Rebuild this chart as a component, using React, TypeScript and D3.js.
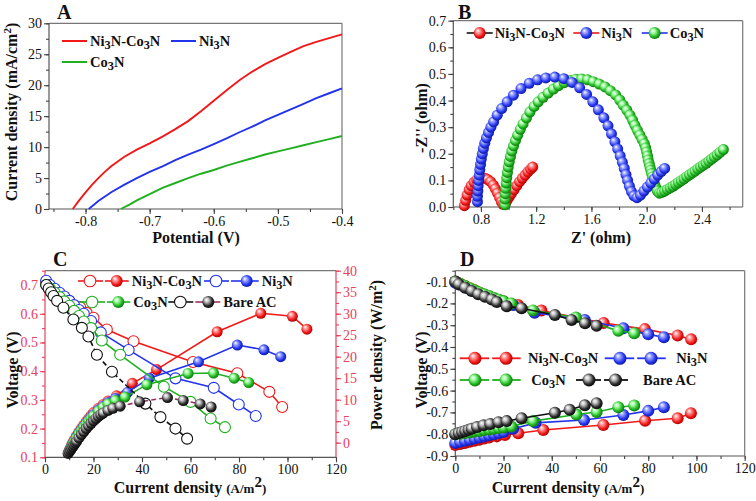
import React, { useEffect, useRef } from 'react';
import * as d3 from 'd3';

type Pt = [number, number];

const SERIF = '"Liberation Serif", "Times New Roman", serif';
const RED = '#f01818';
const BLUE = '#2233ee';
const GREEN = '#1faf1f';
const BLACK = '#111111';
const AXIS_RED = '#e8405a';

// ---------- A: LSV curves (current density vs potential)
const aNiCo: Pt[] = [[-0.82, 0], [-0.81, 1.4], [-0.8, 2.7], [-0.79, 3.9], [-0.78, 5], [-0.77, 6], [-0.76, 6.9], [-0.74, 8.4], [-0.72, 9.6], [-0.7, 10.6], [-0.68, 11.7], [-0.66, 12.9], [-0.64, 14.2], [-0.62, 15.8], [-0.6, 17.5], [-0.58, 19.2], [-0.56, 20.8], [-0.54, 22.2], [-0.52, 23.4], [-0.5, 24.4], [-0.48, 25.4], [-0.46, 26.3], [-0.44, 27], [-0.42, 27.6], [-0.4, 28.2]];
const aNi: Pt[] = [[-0.795, 0], [-0.78, 1.3], [-0.76, 2.7], [-0.74, 3.9], [-0.72, 5], [-0.7, 6], [-0.68, 6.9], [-0.66, 7.9], [-0.64, 8.8], [-0.62, 9.6], [-0.6, 10.5], [-0.58, 11.4], [-0.56, 12.4], [-0.54, 13.3], [-0.52, 14.3], [-0.5, 15.2], [-0.48, 16.1], [-0.46, 17], [-0.44, 17.9], [-0.42, 18.7], [-0.4, 19.5]];
const aCo: Pt[] = [[-0.745, 0], [-0.73, 0.8], [-0.72, 1.4], [-0.7, 2.4], [-0.68, 3.4], [-0.66, 4.2], [-0.64, 5], [-0.62, 5.7], [-0.6, 6.3], [-0.58, 7], [-0.56, 7.6], [-0.54, 8.2], [-0.52, 8.8], [-0.5, 9.3], [-0.48, 9.8], [-0.46, 10.3], [-0.44, 10.8], [-0.42, 11.3], [-0.4, 11.8]];
const aXTicks = [-0.8, -0.7, -0.6, -0.5, -0.4];
const aYTicks = [0, 5, 10, 15, 20, 25, 30];

// ---------- B: Nyquist plots
const bNiCo: Pt[] = [[0.68, 0.005], [0.69, 0.025], [0.7, 0.045], [0.715, 0.065], [0.73, 0.08], [0.75, 0.093], [0.77, 0.102], [0.79, 0.108], [0.81, 0.11], [0.83, 0.108], [0.85, 0.103], [0.87, 0.095], [0.89, 0.082], [0.905, 0.068], [0.92, 0.052], [0.935, 0.036], [0.948, 0.02], [0.96, 0.01], [0.975, 0.012], [0.99, 0.025], [1.005, 0.038], [1.02, 0.05], [1.04, 0.065], [1.06, 0.08], [1.08, 0.095], [1.1, 0.108], [1.12, 0.12], [1.14, 0.132], [1.16, 0.142], [1.175, 0.15]];
const bNi: Pt[] = [[0.775, 0.02], [0.775, 0.04], [0.778, 0.06], [0.78, 0.08], [0.784, 0.1], [0.788, 0.12], [0.792, 0.14], [0.797, 0.16], [0.803, 0.18], [0.81, 0.2], [0.818, 0.22], [0.828, 0.24], [0.84, 0.26], [0.855, 0.28], [0.872, 0.3], [0.892, 0.32], [0.918, 0.345], [0.95, 0.37], [0.99, 0.395], [1.035, 0.42], [1.09, 0.445], [1.15, 0.465], [1.21, 0.478], [1.27, 0.485], [1.335, 0.488], [1.4, 0.482], [1.46, 0.468], [1.515, 0.448], [1.565, 0.423], [1.61, 0.395], [1.65, 0.365], [1.69, 0.335], [1.72, 0.305], [1.745, 0.275], [1.77, 0.245], [1.79, 0.218], [1.808, 0.192], [1.824, 0.168], [1.838, 0.145], [1.85, 0.122], [1.862, 0.1], [1.875, 0.078], [1.89, 0.058], [1.908, 0.042], [1.93, 0.035], [1.955, 0.045], [1.98, 0.06], [2.005, 0.075], [2.03, 0.09], [2.055, 0.105], [2.08, 0.12], [2.105, 0.133], [2.13, 0.145]];
const bCo: Pt[] = [[0.975, 0.008], [0.975, 0.03], [0.977, 0.05], [0.98, 0.07], [0.983, 0.09], [0.987, 0.11], [0.992, 0.13], [0.998, 0.15], [1.005, 0.17], [1.014, 0.19], [1.024, 0.21], [1.036, 0.23], [1.05, 0.25], [1.066, 0.27], [1.085, 0.292], [1.105, 0.312], [1.13, 0.335], [1.155, 0.357], [1.185, 0.378], [1.215, 0.395], [1.25, 0.412], [1.287, 0.428], [1.325, 0.443], [1.362, 0.456], [1.403, 0.467], [1.445, 0.475], [1.487, 0.48], [1.53, 0.481], [1.572, 0.478], [1.613, 0.471], [1.656, 0.462], [1.698, 0.451], [1.737, 0.437], [1.775, 0.421], [1.805, 0.402], [1.83, 0.383], [1.856, 0.364], [1.879, 0.345], [1.898, 0.326], [1.915, 0.307], [1.933, 0.288], [1.951, 0.27], [1.967, 0.254], [1.983, 0.238], [1.993, 0.222], [2.0, 0.207], [2.006, 0.192], [2.011, 0.177], [2.018, 0.163], [2.024, 0.15], [2.03, 0.138], [2.036, 0.126], [2.042, 0.113], [2.048, 0.1], [2.054, 0.09], [2.06, 0.08], [2.068, 0.07], [2.078, 0.06], [2.092, 0.052], [2.11, 0.055], [2.13, 0.06], [2.15, 0.066], [2.17, 0.072], [2.19, 0.078], [2.21, 0.085], [2.23, 0.092], [2.25, 0.099], [2.27, 0.106], [2.29, 0.114], [2.31, 0.121], [2.33, 0.128], [2.35, 0.135], [2.37, 0.143], [2.39, 0.15], [2.41, 0.157], [2.43, 0.164], [2.45, 0.172], [2.47, 0.18], [2.49, 0.188], [2.51, 0.196], [2.53, 0.205], [2.555, 0.216]];
const bXTicks = [0.8, 1.2, 1.6, 2.0, 2.4];
const bYTicks = [0, 0.1, 0.2, 0.3, 0.4, 0.5, 0.6, 0.7];

// ---------- C: polarization (voltage, open) and power density (filled)
const cNiCoV: Pt[] = [[0.5, 0.71], [2, 0.695], [4, 0.68], [6, 0.667], [8, 0.656], [10, 0.645], [14.5, 0.623], [17.2, 0.603], [20, 0.586], [25.5, 0.545], [36.5, 0.504], [61, 0.432], [79.3, 0.393], [92.5, 0.328], [97.8, 0.275]];
const cNiCoP: Pt[] = [[10, -1.8], [10.5, -1.2], [11, -0.6], [11.5, 0], [12, 0.6], [13, 1.6], [14, 2.5], [15, 3.3], [16, 4.1], [17, 4.9], [18, 5.6], [19, 6.3], [20, 7], [22, 8], [24, 8.9], [26, 9.7], [29.5, 10.9], [36, 13.8], [46, 17], [71, 25.8], [89, 30.1], [102, 29.4], [108, 26.4]];
const cNiV: Pt[] = [[0.5, 0.715], [2, 0.7], [4, 0.687], [6, 0.673], [8, 0.66], [10, 0.645], [12, 0.63], [14, 0.613], [16, 0.6], [19, 0.575], [23, 0.535], [34.5, 0.474], [53.8, 0.375], [69.6, 0.342], [79.9, 0.284], [86.9, 0.244]];
const cNiP: Pt[] = [[10, -1.9], [10.5, -1.4], [11, -0.8], [11.5, -0.3], [12, 0.3], [13, 1.3], [14, 2.2], [15, 3], [16, 3.8], [17, 4.5], [18, 5.2], [19, 5.9], [20, 6.5], [22, 7.6], [24, 8.5], [26, 9.3], [29, 10.3], [34, 11.7], [43, 15], [63.3, 18.8], [79.3, 22.7], [90.3, 21.6], [97.2, 20]];
const cCoV: Pt[] = [[0.5, 0.7], [2, 0.688], [4, 0.673], [6, 0.658], [8, 0.643], [10, 0.628], [12, 0.61], [14, 0.592], [16, 0.573], [19, 0.55], [23.4, 0.507], [31, 0.457], [49, 0.346], [60, 0.293], [68.3, 0.235], [74.2, 0.205]];
const cCoP: Pt[] = [[10, -2], [10.5, -1.5], [11, -1], [11.5, -0.4], [12, 0.1], [13, 1.1], [14, 2], [15, 2.8], [16, 3.6], [17, 4.3], [18, 5], [19, 5.6], [20, 6.2], [22, 7.3], [24, 8.2], [26, 9], [29, 9.8], [33, 10.6], [42, 13.5], [59, 16.1], [69.5, 16.2], [78, 15], [84, 14]];
const cACV: Pt[] = [[0.5, 0.7], [1.5, 0.688], [2.5, 0.675], [3.5, 0.662], [5, 0.645], [7.6, 0.621], [11.7, 0.58], [15.2, 0.551], [17.9, 0.521], [21.4, 0.457], [27.6, 0.398], [41.4, 0.287], [47.6, 0.24], [53.8, 0.2], [58.6, 0.165]];
const cACP: Pt[] = [[9.5, -2.5], [10, -2.1], [10.5, -1.7], [11, -1.3], [11.5, -0.9], [12, -0.5], [12.5, -0.1], [13, 0.3], [14, 1.1], [15, 1.9], [16, 2.6], [17, 3.3], [18, 3.9], [19, 4.5], [20, 5.1], [21, 5.6], [22, 6.1], [23, 6.5], [24, 6.9], [26, 7.5], [28, 8], [31, 8.5], [39, 9.5], [50.5, 10.5], [57, 9.8], [64, 9], [68.5, 8.3]];
const cXTicks = [0, 20, 40, 60, 80, 100, 120];
const cVTicks = [0.1, 0.2, 0.3, 0.4, 0.5, 0.6, 0.7];
const cPTicks = [0, 5, 10, 15, 20, 25, 30, 35, 40];

// ---------- D: electrode potentials
const dNiCoUp: Pt[] = [[0, -0.1], [2, -0.11], [4, -0.12], [6, -0.13], [8, -0.14], [10, -0.15], [12, -0.16], [14, -0.168], [16, -0.176], [18, -0.184], [20, -0.19], [26, -0.207], [35.7, -0.233], [61.5, -0.29], [78.6, -0.318], [92.2, -0.347], [97.8, -0.365]];
const dNiCoLow: Pt[] = [[0, -0.85], [2, -0.845], [4, -0.84], [6, -0.835], [8, -0.83], [10, -0.825], [12, -0.82], [14, -0.815], [17.2, -0.81], [20.6, -0.804], [26.1, -0.796], [36.5, -0.781], [61.4, -0.758], [78.7, -0.738], [92.2, -0.727], [97.7, -0.704]];
const dNiUp: Pt[] = [[0, -0.105], [2, -0.115], [4, -0.125], [6, -0.135], [8, -0.145], [10, -0.153], [12, -0.162], [14, -0.17], [16, -0.178], [18, -0.186], [20, -0.193], [24, -0.207], [32.9, -0.243], [53.7, -0.276], [69.7, -0.314], [80, -0.342], [86.5, -0.355]];
const dNiLow: Pt[] = [[0, -0.84], [2, -0.835], [4, -0.83], [6, -0.825], [8, -0.82], [10, -0.815], [12, -0.81], [14, -0.805], [16, -0.8], [18, -0.795], [20, -0.79], [24, -0.775], [33.3, -0.748], [53.4, -0.735], [69.7, -0.712], [80, -0.693], [86.5, -0.676]];
const dCoUp: Pt[] = [[0, -0.1], [2, -0.11], [4, -0.12], [6, -0.13], [8, -0.14], [10, -0.15], [12, -0.158], [14, -0.166], [16, -0.175], [18, -0.183], [20, -0.19], [23.2, -0.2], [32.2, -0.232], [50, -0.265], [67.6, -0.326], [74.2, -0.337]];
const dCoLow: Pt[] = [[0, -0.8], [2, -0.798], [4, -0.795], [6, -0.792], [8, -0.788], [10, -0.785], [12, -0.781], [14, -0.778], [16, -0.775], [18, -0.772], [20, -0.769], [23.2, -0.765], [32.2, -0.74], [50.2, -0.71], [58.6, -0.698], [67.6, -0.676], [74.2, -0.668]];
const dACUp: Pt[] = [[0, -0.1], [1.4, -0.112], [4.1, -0.128], [6.8, -0.143], [9.5, -0.158], [12.3, -0.17], [15.1, -0.182], [17.2, -0.194], [21.3, -0.213], [27.5, -0.222], [41.3, -0.253], [48.2, -0.276], [53.8, -0.291], [58.6, -0.303]];
const dACLow: Pt[] = [[0, -0.8], [1.4, -0.795], [2.8, -0.79], [4.1, -0.785], [5.5, -0.78], [6.8, -0.775], [9, -0.767], [11.7, -0.759], [14.5, -0.753], [17.9, -0.745], [21.3, -0.74], [27.5, -0.727], [41.3, -0.702], [47.4, -0.688], [53.7, -0.667], [58.6, -0.658]];
const dXTicks = [0, 20, 40, 60, 80, 100, 120];
const dYTicks = [-0.9, -0.8, -0.7, -0.6, -0.5, -0.4, -0.3, -0.2, -0.1];

// sphere gradients: id, highlight, body, rim
const SPHERES: [string, string, string, string][] = [
  ['sph-red', '#ff9a9a', '#f01414', '#9a0000'],
  ['sph-blue', '#9aa4ff', '#2233ee', '#0c1488'],
  ['sph-green', '#a8ffa8', '#1fb51f', '#0a680a'],
  ['sph-black', '#c8c8c8', '#2a2a2a', '#000000'],
];

const f1 = (d: any) => (+d).toFixed(1);
const f0 = (d: any) => String(Math.round(+d));

function addDefs(svg: any) {
  const defs = svg.append('defs');
  SPHERES.forEach(([id, hi, mid, lo]) => {
    const gr = defs.append('radialGradient').attr('id', id)
      .attr('cx', '45%').attr('cy', '45%').attr('r', '60%').attr('fx', '33%').attr('fy', '30%');
    gr.append('stop').attr('offset', '0%').attr('stop-color', '#ffffff');
    gr.append('stop').attr('offset', '28%').attr('stop-color', hi);
    gr.append('stop').attr('offset', '70%').attr('stop-color', mid);
    gr.append('stop').attr('offset', '100%').attr('stop-color', lo);
  });
}

function drawAxis(g: any, kind: string, scale: any, pos: number, majors: number[], minors: number[], fmt: any, color: string, labelColor: string) {
  const mk = kind === 'left' ? d3.axisLeft : kind === 'right' ? d3.axisRight : d3.axisBottom;
  const tr = kind === 'bottom' ? `translate(0,${pos})` : `translate(${pos},0)`;
  const minorG = g.append('g').attr('transform', tr)
    .call(mk(scale).tickValues(minors).tickSize(3).tickFormat(() => ''));
  const majorG = g.append('g').attr('transform', tr)
    .call(mk(scale).tickValues(majors).tickSize(5).tickPadding(2).tickFormat(fmt));
  [minorG, majorG].forEach((a: any) => {
    a.select('.domain').remove();
    a.attr('font-family', SERIF).attr('font-size', 14);
    a.selectAll('line').attr('stroke', color).attr('stroke-width', 1.1);
    a.selectAll('text').attr('fill', labelColor);
  });
}

function frame(g: any, x0: number, y0: number, x1: number, y1: number, sides: string[]) {
  // sides: top, right, bottom, left colours
  const segs: [number, number, number, number][] = [[x0, y0, x1, y0], [x1, y0, x1, y1], [x0, y1, x1, y1], [x0, y0, x0, y1]];
  segs.forEach((s, i) => {
    g.append('line').attr('x1', s[0]).attr('y1', s[1]).attr('x2', s[2]).attr('y2', s[3])
      .attr('stroke', sides[i]).attr('stroke-width', 1.2);
  });
}

// bold text with subscript digits (chemical formulae)
function chem(g: any, x: number, y: number, str: string, size: number) {
  const t = g.append('text').attr('x', x).attr('y', y).attr('font-family', SERIF)
    .attr('font-weight', 'bold').attr('font-size', size).attr('fill', '#111');
  let down = false;
  str.split(/(\d)/).filter((s) => s.length).forEach((p) => {
    const ts = t.append('tspan').text(p);
    if (/^\d$/.test(p)) {
      ts.attr('font-size', size * 0.85);
      if (!down) ts.attr('dy', 3);
      down = true;
    } else {
      if (down) ts.attr('dy', -3);
      down = false;
    }
  });
}

// rich label: parts are [text, size, dy]
function label(g: any, x: number, y: number, parts: [string, number, number][], rotate = false) {
  const t = g.append('text').attr('font-family', SERIF).attr('font-weight', 'bold')
    .attr('text-anchor', 'middle').attr('fill', '#111')
    .attr('transform', `translate(${x},${y})${rotate ? ' rotate(-90)' : ''}`);
  parts.forEach(([s, size, dy]) => {
    t.append('tspan').text(s).attr('font-size', size).attr('dy', dy);
  });
}

function title(g: any, x: number, y: number, s: string) {
  g.append('text').attr('x', x).attr('y', y).attr('font-family', SERIF).attr('font-weight', 'bold')
    .attr('font-size', 20).attr('fill', '#111').text(s);
}

function spheres(g: any, pts: Pt[], x: any, y: any, grad: string, r: number) {
  g.append('g').selectAll('circle').data(pts).enter().append('circle')
    .attr('cx', (d: Pt) => x(d[0])).attr('cy', (d: Pt) => y(d[1])).attr('r', r)
    .attr('fill', `url(#${grad})`);
}

function openCircles(g: any, pts: Pt[], x: any, y: any, color: string, r: number) {
  g.append('g').selectAll('circle').data(pts).enter().append('circle')
    .attr('cx', (d: Pt) => x(d[0])).attr('cy', (d: Pt) => y(d[1])).attr('r', r)
    .attr('fill', '#fff').attr('stroke', color).attr('stroke-width', 1.1);
}

function path(g: any, pts: Pt[], x: any, y: any, color: string, w: number, dash?: string) {
  const line = d3.line<Pt>().x((d) => x(d[0])).y((d) => y(d[1]));
  const p = g.append('path').datum(pts).attr('d', line).attr('fill', 'none')
    .attr('stroke', color).attr('stroke-width', w);
  if (dash) p.attr('stroke-dasharray', dash);
}

function drawA(svg: any) {
  const g = svg.append('g');
  const x = d3.scaleLinear().domain([-0.857, -0.4]).range([49, 342]);
  const y = d3.scaleLinear().domain([0, 30]).range([209, 23.3]);
  frame(g, 49, 23.3, 342, 209, ['#777', '#777', '#555', '#555']);
  drawAxis(g, 'bottom', x, 209, aXTicks, d3.range(-0.85, -0.39, 0.05), f1, '#444', '#111');
  drawAxis(g, 'left', y, 49, aYTicks, d3.range(0, 30.1, 2.5), f0, '#444', '#111');
  path(g, aNiCo, x, y, RED, 1.9);
  path(g, aNi, x, y, BLUE, 1.9);
  path(g, aCo, x, y, GREEN, 1.9);
  [[RED, 62, 41, 'Ni3N-Co3N'], [BLUE, 171, 41, 'Ni3N'], [GREEN, 62, 62, 'Co3N']].forEach(([c, lx, ly, s]: any) => {
    g.append('line').attr('x1', lx).attr('x2', lx + 25).attr('y1', ly).attr('y2', ly).attr('stroke', c).attr('stroke-width', 2);
    chem(g, lx + 28, ly + 5, s, 14.5);
  });
  title(g, 57, 19, 'A');
  label(g, 17, 112, [['Current density (mA/cm', 16, 0], ['2', 11, -6], [')', 16, 6]], true);
  label(g, 196, 243, [['Potential (V)', 16, 0]]);
}

function drawB(svg: any) {
  const g = svg.append('g');
  const x = d3.scaleLinear().domain([0.6, 2.695]).range([453.3, 742.7]);
  const y = d3.scaleLinear().domain([0, 0.7]).range([207, 20.7]);
  frame(g, 453.3, 20.7, 742.7, 207, ['#777', '#777', '#555', '#555']);
  drawAxis(g, 'bottom', x, 207, bXTicks, d3.range(0.6, 2.61, 0.2), f1, '#444', '#111');
  drawAxis(g, 'left', y, 453.3, bYTicks, d3.range(0, 0.71, 0.05), f1, '#444', '#111');
  path(g, bNiCo, x, y, BLACK, 1);
  spheres(g, bNiCo, x, y, 'sph-red', 5.5);
  path(g, bCo, x, y, BLUE, 1);
  spheres(g, bCo, x, y, 'sph-green', 5.5);
  path(g, bNi, x, y, RED, 1);
  spheres(g, bNi, x, y, 'sph-blue', 5.5);
  [[BLACK, 'sph-red', 466.7, 'Ni3N-Co3N'], [RED, 'sph-blue', 573.3, 'Ni3N'], [BLUE, 'sph-green', 641.7, 'Co3N']].forEach(([c, gr, lx, s]: any) => {
    g.append('line').attr('x1', lx).attr('x2', lx + 26).attr('y1', 33).attr('y2', 33).attr('stroke', c).attr('stroke-width', 1.6);
    g.append('circle').attr('cx', lx + 13).attr('cy', 33).attr('r', 6).attr('fill', `url(#${gr})`);
    chem(g, lx + 28, 38, s, 14.5);
  });
  title(g, 458, 19, 'B');
  label(g, 427, 118, [["-Z'' (ohm)", 16, 0]], true);
  label(g, 601, 243, [["Z' (ohm)", 16, 0]]);
}

function drawC(svg: any) {
  const g = svg.append('g');
  const x = d3.scaleLinear().domain([0, 120]).range([45, 336]);
  const yV = d3.scaleLinear().domain([0.1, 0.75]).range([457.3, 270.7]);
  const yP = d3.scaleLinear().domain([-3.4, 40]).range([457.3, 270.7]);
  frame(g, 45, 270.7, 336, 457.3, ['#777', AXIS_RED, '#555', AXIS_RED]);
  drawAxis(g, 'bottom', x, 457.3, cXTicks, d3.range(0, 121, 10), f0, '#444', '#111');
  drawAxis(g, 'left', yV, 45, cVTicks, d3.range(0.1, 0.751, 0.05), f1, AXIS_RED, AXIS_RED);
  drawAxis(g, 'right', yP, 336, cPTicks, d3.range(0, 40.1, 2.5), f0, AXIS_RED, AXIS_RED);

  const series: [Pt[], Pt[], string, string, string, string | undefined][] = [
    [cNiCoV, cNiCoP, RED, 'sph-red', RED, undefined],
    [cNiV, cNiP, BLUE, 'sph-blue', BLUE, undefined],
    [cCoV, cCoP, GREEN, 'sph-green', GREEN, undefined],
    [cACV, cACP, BLACK, 'sph-black', '#993366', '5,3'],
  ];
  series.forEach(([v, p, c, gr, pc, dash]) => {
    path(g, v, x, yV, c, 1.6, c === BLACK ? '5,3' : undefined);
    openCircles(g, v, x, yV, c, 5.5);
    path(g, p, x, yP, pc, 1.6, dash);
    spheres(g, p, x, yP, gr, 5.5);
  });

  const leg: [string, string, string, number, number, number, string][] = [
    [RED, 'sph-red', RED, 78, 281, 131.7, 'Ni3N-Co3N'],
    [BLUE, 'sph-blue', BLUE, 204, 281, 261.7, 'Ni3N'],
    [GREEN, 'sph-green', GREEN, 80, 302, 133.3, 'Co3N'],
    [BLACK, 'sph-black', '#993366', 168.3, 302, 223.3, 'Bare AC'],
  ];
  leg.forEach(([c, gr, pc, lx, ly, tx, s]) => {
    const mid = lx + 25;
    g.append('line').attr('x1', lx).attr('x2', mid).attr('y1', ly).attr('y2', ly).attr('stroke', c).attr('stroke-width', 1.6);
    g.append('line').attr('x1', mid + 2).attr('x2', tx - 3).attr('y1', ly).attr('y2', ly).attr('stroke', pc).attr('stroke-width', 1.6);
    g.append('circle').attr('cx', lx + 12).attr('cy', ly).attr('r', 5.8).attr('fill', '#fff').attr('stroke', c).attr('stroke-width', 1.1);
    g.append('circle').attr('cx', tx - 15).attr('cy', ly).attr('r', 6).attr('fill', `url(#${gr})`);
    chem(g, tx, ly + 5, s, 14.5);
  });
  title(g, 53, 266, 'C');
  label(g, 18, 370, [['Voltage (V)', 16, 0]], true);
  label(g, 382, 355, [['Power density (W/m', 16, 0], ['2', 11, -6], [')', 16, 6]], true);
  label(g, 190, 493, [['Current density ', 16, 0], ['(A/m', 13, 0], ['2', 15, -6], [')', 13, 6]]);
}

function drawD(svg: any) {
  const g = svg.append('g');
  const x = d3.scaleLinear().domain([0, 120]).range([455.3, 744.7]);
  const y = d3.scaleLinear().domain([-0.9, -0.05]).range([456, 270.7]);
  frame(g, 455.3, 270.7, 744.7, 456, ['#777', '#777', '#555', '#555']);
  drawAxis(g, 'bottom', x, 456, dXTicks, d3.range(0, 121, 10), f0, '#444', '#111');
  drawAxis(g, 'left', y, 455.3, dYTicks, d3.range(-0.9, -0.049, 0.05), f1, '#444', '#111');
  const series: [Pt[], Pt[], string, string][] = [
    [dNiCoUp, dNiCoLow, RED, 'sph-red'],
    [dNiUp, dNiLow, BLUE, 'sph-blue'],
    [dCoUp, dCoLow, GREEN, 'sph-green'],
    [dACUp, dACLow, BLACK, 'sph-black'],
  ];
  series.forEach(([up, low, c, gr]) => {
    path(g, up, x, y, c, 1.6);
    spheres(g, up, x, y, gr, 6);
    path(g, low, x, y, c, 1.6);
    spheres(g, low, x, y, gr, 6);
  });
  const leg: [string, string, number, number, number, string][] = [
    [RED, 'sph-red', 459.7, 358.3, 528, 'Ni3N-Co3N'],
    [BLUE, 'sph-blue', 604.7, 358.3, 676.3, 'Ni3N'],
    [GREEN, 'sph-green', 459.7, 380, 531.3, 'Co3N'],
    [BLACK, 'sph-black', 576, 380, 643, 'Bare AC'],
  ];
  leg.forEach(([c, gr, lx, ly, tx, s]) => {
    const w = c === BLACK ? 52 : 61;
    const mid = lx + w / 2;
    g.append('line').attr('x1', lx).attr('x2', mid - 1).attr('y1', ly).attr('y2', ly).attr('stroke', c).attr('stroke-width', 1.8);
    g.append('line').attr('x1', mid + 2).attr('x2', lx + w).attr('y1', ly).attr('y2', ly).attr('stroke', c).attr('stroke-width', 1.8);
    g.append('circle').attr('cx', lx + w * 0.25).attr('cy', ly).attr('r', 6.5).attr('fill', `url(#${gr})`);
    g.append('circle').attr('cx', lx + w * 0.76).attr('cy', ly).attr('r', 6.5).attr('fill', `url(#${gr})`);
    chem(g, tx, ly + 5, s, 14.5);
  });
  title(g, 460, 266, 'D');
  label(g, 427, 370, [['Voltage (V)', 16, 0]], true);
  label(g, 568, 493, [['Current density ', 16, 0], ['(A/m', 13, 0], ['2', 15, -6], [')', 13, 6]]);
}

export default function App() {
  const ref = useRef<SVGSVGElement | null>(null);

  useEffect(() => {
    if (!ref.current) return;
    const svg = d3.select(ref.current);
    svg.selectAll('*').remove();
    addDefs(svg);
    drawA(svg);
    drawB(svg);
    drawC(svg);
    drawD(svg);
  }, []);

  return (
    <svg
      ref={ref}
      width={756}
      height={501}
      style={{ position: 'absolute', left: 0, top: 0, background: '#fff' }}
    />
  );
}
